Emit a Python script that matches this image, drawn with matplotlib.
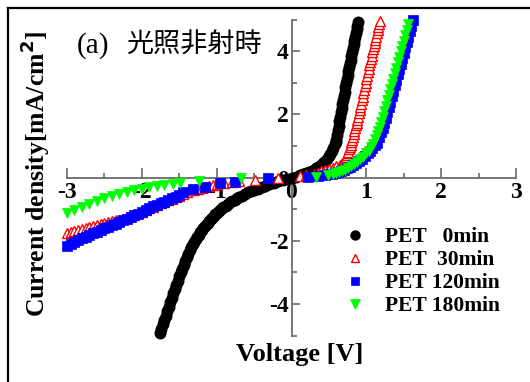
import matplotlib
matplotlib.use("Agg")
import matplotlib.pyplot as plt
from matplotlib.lines import Line2D
from matplotlib.ticker import MultipleLocator

# ---------------- data ----------------
v_0min = [-1.76, -1.74, -1.72, -1.70, -1.68, -1.66, -1.64, -1.62, -1.60, -1.58,
          -1.56, -1.54, -1.52, -1.50, -1.48, -1.46, -1.44, -1.42, -1.40, -1.38,
          -1.36, -1.34, -1.32, -1.30, -1.28, -1.26, -1.24, -1.22, -1.20, -1.18,
          -1.16, -1.14, -1.12, -1.10, -1.08, -1.06, -1.04, -1.02, -1.00, -0.97,
          -0.94, -0.91, -0.88, -0.85, -0.82, -0.79, -0.76, -0.73, -0.70, -0.66,
          -0.62, -0.58, -0.54, -0.50, -0.45, -0.40, -0.35, -0.30, -0.24, -0.18,
          -0.12, -0.06, 0.00, 0.06, 0.12, 0.16, 0.20, 0.24, 0.27, 0.30,
          0.33, 0.36, 0.39, 0.42, 0.44, 0.47, 0.50, 0.52, 0.54, 0.56,
          0.58, 0.59, 0.60, 0.61, 0.62, 0.63, 0.64, 0.65, 0.66, 0.67,
          0.68, 0.69, 0.70, 0.71, 0.72, 0.73, 0.74, 0.75, 0.76, 0.77,
          0.78, 0.79, 0.80, 0.81, 0.82, 0.83, 0.84, 0.85, 0.86, 0.87,
          0.88, 0.89]
j_0min = [-4.93, -4.78, -4.64, -4.50, -4.37, -4.23, -4.09, -3.95, -3.81, -3.66,
          -3.53, -3.39, -3.26, -3.13, -3.00, -2.88, -2.76, -2.64, -2.53, -2.42,
          -2.31, -2.21, -2.12, -2.03, -1.95, -1.88, -1.81, -1.74, -1.67, -1.61,
          -1.55, -1.49, -1.43, -1.37, -1.32, -1.27, -1.22, -1.17, -1.12, -1.06,
          -1.00, -0.94, -0.89, -0.84, -0.79, -0.74, -0.70, -0.66, -0.62, -0.57,
          -0.52, -0.47, -0.43, -0.40, -0.35, -0.31, -0.26, -0.22, -0.17, -0.12,
          -0.08, -0.04, 0.00, 0.03, 0.07, 0.10, 0.14, 0.18, 0.21, 0.25,
          0.29, 0.34, 0.39, 0.45, 0.50, 0.58, 0.67, 0.75, 0.84, 0.94,
          1.05, 1.12, 1.20, 1.35, 1.50, 1.64, 1.78, 1.92, 2.07, 2.20,
          2.33, 2.46, 2.59, 2.72, 2.85, 2.98, 3.11, 3.24, 3.37, 3.49,
          3.61, 3.73, 3.85, 3.97, 4.09, 4.21, 4.33, 4.45, 4.57, 4.69,
          4.81, 4.93]

v_30min = [-3.00, -2.95, -2.90, -2.85, -2.80, -2.75, -2.70, -2.65, -2.60, -2.55,
           -2.50, -2.45, -2.40, -2.35, -2.30, -2.25, -2.20, -2.15, -2.10, -2.05,
           -2.00, -1.95, -1.90, -1.85, -1.80, -1.75, -1.70, -1.65, -1.60, -1.55,
           -1.50, -1.45, -1.40, -1.35, -1.30, -1.25, -1.20, -1.15, -1.10, -1.05,
           -1.00, -0.90, -0.80, -0.70, -0.49, -0.18, 0.11, 0.20, 0.30, 0.35,
           0.40, 0.45, 0.50, 0.55, 0.60, 0.65, 0.68, 0.70, 0.71, 0.72,
           0.73, 0.74, 0.75, 0.76, 0.77, 0.78, 0.79, 0.80, 0.81, 0.82,
           0.83, 0.84, 0.85, 0.86, 0.87, 0.88, 0.89, 0.90, 0.91, 0.92,
           0.93, 0.94, 0.95, 0.96, 0.97, 0.98, 0.99, 1.00, 1.01, 1.02,
           1.03, 1.04, 1.05, 1.06, 1.07, 1.08, 1.09, 1.10, 1.11, 1.12,
           1.13, 1.14, 1.15, 1.16, 1.17, 1.18]
j_30min = [-1.77, -1.74, -1.70, -1.67, -1.63, -1.60, -1.56, -1.54, -1.51, -1.48,
           -1.45, -1.42, -1.39, -1.36, -1.33, -1.30, -1.26, -1.23, -1.18, -1.13,
           -1.08, -1.03, -0.97, -0.92, -0.87, -0.82, -0.77, -0.72, -0.67, -0.62,
           -0.57, -0.51, -0.46, -0.41, -0.38, -0.35, -0.32, -0.29, -0.26, -0.23,
           -0.21, -0.17, -0.13, -0.11, -0.09, -0.03, 0.05, 0.08, 0.12, 0.15,
           0.20, 0.24, 0.27, 0.31, 0.35, 0.41, 0.46, 0.52, 0.56, 0.60,
           0.65, 0.70, 0.76, 0.82, 0.89, 0.96, 1.04, 1.12, 1.20, 1.29,
           1.38, 1.47, 1.56, 1.65, 1.74, 1.83, 1.93, 2.03, 2.13, 2.23,
           2.34, 2.45, 2.56, 2.67, 2.78, 2.89, 3.00, 3.11, 3.22, 3.33,
           3.44, 3.55, 3.66, 3.76, 3.86, 3.96, 4.06, 4.16, 4.26, 4.36,
           4.46, 4.56, 4.66, 4.76, 4.86, 4.96]

v_120min = [-3.00, -2.95, -2.90, -2.85, -2.80, -2.75, -2.70, -2.65, -2.60, -2.55,
            -2.50, -2.45, -2.40, -2.35, -2.30, -2.25, -2.20, -2.15, -2.10, -2.05,
            -2.00, -1.95, -1.90, -1.85, -1.80, -1.75, -1.70, -1.65, -1.60, -1.55,
            -1.50, -1.45, -1.32, -1.16, -0.96, -0.76, -0.31, 0.22, 0.35, 0.45,
            0.50, 0.54, 0.58, 0.62, 0.66, 0.70, 0.74, 0.78, 0.82, 0.86,
            0.90, 0.94, 0.98, 1.02, 1.05, 1.08, 1.11, 1.14, 1.17, 1.20,
            1.22, 1.24, 1.26, 1.28, 1.30, 1.32, 1.34, 1.36, 1.38, 1.40,
            1.42, 1.44, 1.46, 1.48, 1.50, 1.52, 1.54, 1.56, 1.58, 1.60,
            1.62]
j_120min = [-2.17, -2.11, -2.05, -1.99, -1.93, -1.87, -1.81, -1.76, -1.71, -1.66,
            -1.61, -1.56, -1.51, -1.46, -1.41, -1.36, -1.31, -1.26, -1.20, -1.14,
            -1.08, -1.02, -0.96, -0.91, -0.86, -0.81, -0.76, -0.71, -0.66, -0.61,
            -0.56, -0.47, -0.37, -0.29, -0.18, -0.13, -0.03, 0.02, 0.05, 0.08,
            0.10, 0.12, 0.15, 0.18, 0.21, 0.25, 0.29, 0.34, 0.40, 0.46,
            0.53, 0.60, 0.68, 0.77, 0.85, 0.94, 1.02, 1.10, 1.27, 1.45,
            1.58, 1.72, 1.89, 2.06, 2.23, 2.40, 2.57, 2.75, 2.92, 3.09,
            3.26, 3.43, 3.60, 3.78, 3.95, 4.12, 4.29, 4.46, 4.64, 4.81,
            4.98]

v_180min = [-3.00, -2.90, -2.80, -2.70, -2.60, -2.50, -2.40, -2.30, -2.20, -2.10,
            -2.00, -1.90, -1.80, -1.70, -1.58, -1.49, -1.23, -0.67, 0.33, 0.49,
            0.55, 0.60, 0.64, 0.68, 0.72, 0.76, 0.80, 0.84, 0.88, 0.92,
            0.96, 1.00, 1.03, 1.06, 1.09, 1.12, 1.14, 1.16, 1.18, 1.20,
            1.22, 1.24, 1.26, 1.28, 1.30, 1.32, 1.34, 1.36, 1.38, 1.40,
            1.42, 1.44, 1.46, 1.48, 1.50, 1.52, 1.54, 1.56]
j_180min = [-1.13, -1.04, -0.94, -0.84, -0.75, -0.66, -0.59, -0.53, -0.47, -0.41,
            -0.36, -0.31, -0.27, -0.23, -0.19, -0.17, -0.12, -0.03, 0.03, 0.08,
            0.11, 0.14, 0.17, 0.21, 0.25, 0.30, 0.36, 0.42, 0.49, 0.57,
            0.66, 0.76, 0.85, 0.95, 1.07, 1.22, 1.33, 1.46, 1.60, 1.76,
            1.93, 2.10, 2.27, 2.44, 2.61, 2.79, 2.96, 3.13, 3.30, 3.47,
            3.64, 3.82, 3.99, 4.16, 4.33, 4.50, 4.68, 4.85]

labels = ["PET   0min", "PET  30min", "PET 120min", "PET 180min"]
x_ticks = [-3, -2, -1, 0, 1, 2, 3]
y_ticks = [-4, -2, 0, 2, 4]

# ---------------- figure ----------------
W, H = 530, 382
fig = plt.figure(figsize=(W / 100, H / 100), dpi=100)
ax = fig.add_axes([67 / W, 1 - 335.5 / H, (516 - 67) / W, (335.5 - 19.5) / H])

serif_bold = dict(family="Liberation Serif", weight="bold")

ax.plot(v_0min, j_0min, "o", color="black", ms=7.6, mec="black", lw=0,
        clip_on=False, zorder=3, label=labels[0])
ax.plot(v_30min, j_30min, "^", color="red", ms=7.2, mfc="white", mec="red",
        mew=1.0, lw=0, clip_on=False, zorder=3, label=labels[1])
ax.plot(v_120min, j_120min, "s", color="blue", ms=6.6, mec="blue", mew=0.5,
        lw=0, clip_on=False, zorder=3, label=labels[2])
ax.plot(v_180min, j_180min, "v", color="#00ff00", ms=7.8, mec="#00ff00",
        mew=0.5, lw=0, clip_on=False, zorder=3, label=labels[3])

ax.set_xlim(-3, 3)
ax.set_ylim(-5, 5)

for s in ["top", "right"]:
    ax.spines[s].set_visible(False)
for s in ["left", "bottom"]:
    ax.spines[s].set_position(("data", 0))
    ax.spines[s].set_color("#6a6a6a")
    ax.spines[s].set_linewidth(1.3)

ax.set_xticks(x_ticks)
ax.set_yticks(y_ticks)
ax.xaxis.set_minor_locator(MultipleLocator(0.5))
ax.yaxis.set_minor_locator(MultipleLocator(1))
ax.tick_params(axis="x", which="major", direction="in", length=7.5, width=1.2,
               color="#6a6a6a", pad=3)
ax.tick_params(axis="x", which="minor", direction="in", length=3.8, width=1.2,
               color="#6a6a6a")
ax.tick_params(axis="y", which="major", direction="in", length=6.0, width=1.2,
               color="#6a6a6a", pad=2)
ax.tick_params(axis="y", which="minor", direction="in", length=3.6, width=1.2,
               color="#6a6a6a")
ax.set_xticklabels([str(t) for t in x_ticks], fontsize=17, **serif_bold)
ax.set_yticklabels([str(t) for t in y_ticks], fontsize=17, **serif_bold)

fig.text(300 / W, 1 - 355 / H, "Voltage [V]", fontsize=19, ha="center",
         va="center", **serif_bold)
fig.text(35 / W, 1 - 174 / H, "Current density[mA/cm$^{\\mathbf{2}}$]",
         fontsize=18.5, ha="center", va="center", rotation=90, **serif_bold)
fig.text(77 / W, 1 - 46 / H, "(a)", fontsize=21, ha="left", va="center",
         family="Liberation Serif")
fig.text(126 / W, 1 - 45 / H, "光照非射時", fontsize=19.5, ha="left",
         va="center", family=["Noto Sans CJK JP", "DejaVu Sans"])

leg = ax.legend(loc="upper left", bbox_to_anchor=(344 / W, 1 - 227 / H),
                bbox_transform=fig.transFigure, frameon=False,
                prop=dict(family="Liberation Serif", weight="bold", size=15.5),
                handlelength=1.0, handletextpad=0.9, labelspacing=0.14,
                borderpad=0, borderaxespad=0, markerscale=0.85)

# outer frame (left and top edges visible)
fig.add_artist(Line2D([8 / W, 8 / W], [0, 1 - 8 / H], color="black", lw=1.6,
                      transform=fig.transFigure))
fig.add_artist(Line2D([8 / W, 1], [1 - 8 / H, 1 - 8 / H], color="black", lw=1.6,
                      transform=fig.transFigure))

fig.savefig("out.png", dpi=100)
